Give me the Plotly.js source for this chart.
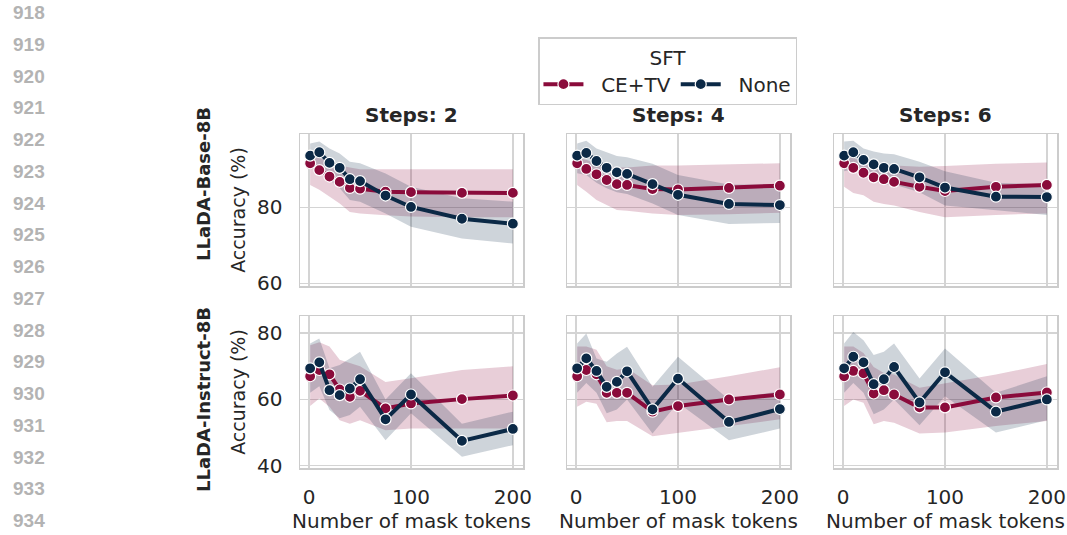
<!DOCTYPE html>
<html>
<head>
<meta charset="utf-8">
<script src="https://cdn.plot.ly/plotly-3.0.1.min.js"></script>
<style>html,body{margin:0;padding:0;background:#fff;}#chart{width:1067px;height:535px;}</style>
</head>
<body>
<div id="chart"></div>
<script>
// ---------- data ----------
const maskTokens = [1, 10, 20, 30, 40, 50, 75, 100, 150, 200];
const stepLabels = ['Steps: 2', 'Steps: 4', 'Steps: 6'];
const modelLabels = ['LLaDA-Base-8B', 'LLaDA-Instruct-8B'];
const seriesNames = ['CE+TV', 'None'];
const lineNumbers = ['918','919','920','921','922','923','924','925','926','927','928','929','930','931','932','933','934'];
const xTicks = [0, 100, 200];
const yTicksBase = [60, 80];
const yTicksInstruct = [40, 60, 80];

// LLaDA-Base-8B
const base_s2_cetv    = [91.6, 89.8, 88.1, 86.7, 85.1, 84.9, 84.1, 84.0, 83.8, 83.8];
const base_s2_cetv_lo = [85.9, 84.6, 82.8, 81.0, 78.8, 78.4, 77.9, 77.6, 77.4, 77.4];
const base_s2_cetv_hi = [93.3, 93.0, 92.0, 91.0, 90.5, 90.0, 90.0, 90.0, 90.0, 90.0];
const base_s2_none    = [93.6, 94.5, 91.7, 90.4, 87.4, 86.9, 83.1, 80.1, 77.0, 75.7];
const base_s2_none_lo = [90.7, 89.8, 87.2, 85.0, 81.9, 81.5, 78.4, 74.9, 71.8, 70.5];
const base_s2_none_hi = [96.8, 97.3, 95.5, 94.2, 92.0, 91.6, 88.9, 85.4, 82.4, 81.5];

const base_s4_cetv    = [91.6, 90.1, 88.7, 87.2, 86.1, 85.9, 84.8, 84.7, 85.1, 85.7];
const base_s4_cetv_lo = [85.9, 84.1, 81.9, 80.6, 79.3, 79.1, 78.4, 78.0, 78.2, 78.6];
const base_s4_cetv_hi = [93.0, 92.5, 91.5, 91.0, 90.5, 90.5, 91.0, 91.0, 91.3, 91.6];
const base_s4_none    = [93.6, 94.3, 92.2, 90.4, 89.2, 88.8, 86.1, 83.3, 80.9, 80.6];
const base_s4_none_lo = [89.0, 88.5, 86.5, 85.0, 84.0, 83.5, 81.0, 78.0, 75.6, 75.9];
const base_s4_none_hi = [96.8, 97.5, 95.5, 94.5, 93.5, 93.2, 91.5, 88.5, 86.0, 86.0];

const base_s6_cetv    = [91.6, 90.4, 89.1, 87.9, 87.4, 86.7, 85.4, 84.3, 85.4, 85.9];
const base_s6_cetv_lo = [85.4, 83.8, 83.2, 81.5, 80.9, 80.5, 78.8, 77.4, 78.0, 78.4];
const base_s6_cetv_hi = [93.5, 93.0, 92.0, 91.5, 91.0, 91.0, 90.7, 90.9, 91.5, 91.8];
const base_s6_none    = [93.6, 94.5, 92.5, 91.3, 90.4, 90.1, 87.9, 85.2, 82.8, 82.7];
const base_s6_none_lo = [89.5, 90.0, 88.5, 87.0, 86.0, 86.0, 84.0, 80.5, 79.3, 78.0];
const base_s6_none_hi = [97.3, 97.5, 95.5, 94.7, 94.2, 94.0, 92.0, 89.5, 86.5, 86.0];

// LLaDA-Instruct-8B
const inst_s2_cetv    = [67.0, 68.9, 67.6, 63.0, 60.8, 62.6, 57.3, 58.8, 60.1, 61.2];
const inst_s2_cetv_lo = [58.0, 60.3, 57.8, 53.7, 52.7, 53.7, 50.7, 51.2, 51.2, 51.2];
const inst_s2_cetv_hi = [76.4, 77.3, 76.0, 72.0, 71.0, 70.0, 65.3, 66.4, 68.9, 70.0];
const inst_s2_none    = [69.4, 71.2, 62.8, 61.3, 63.3, 66.1, 54.0, 61.5, 47.5, 51.1];
const inst_s2_none_lo = [62.0, 64.0, 56.8, 54.3, 55.3, 57.8, 47.7, 55.8, 42.7, 46.2];
const inst_s2_none_hi = [76.9, 78.4, 69.4, 70.4, 72.4, 74.4, 60.0, 67.9, 52.7, 56.3];

const inst_s4_cetv    = [67.0, 68.9, 67.6, 62.0, 62.0, 62.0, 56.3, 58.0, 60.0, 61.5];
const inst_s4_cetv_lo = [57.8, 59.3, 58.7, 53.1, 53.5, 53.5, 48.9, 49.8, 52.0, 54.0];
const inst_s4_cetv_hi = [76.0, 76.0, 75.0, 70.0, 69.0, 69.4, 64.3, 64.5, 67.0, 69.7];
const inst_s4_none    = [69.4, 72.4, 68.6, 63.8, 65.3, 68.5, 57.0, 66.3, 53.2, 57.1];
const inst_s4_none_lo = [62.0, 65.0, 62.0, 55.8, 57.0, 60.0, 49.7, 59.0, 47.7, 51.2];
const inst_s4_none_hi = [76.9, 79.9, 72.4, 71.4, 73.9, 75.9, 63.8, 72.9, 60.0, 62.5];

const inst_s6_cetv    = [67.0, 68.6, 67.9, 61.8, 62.8, 61.5, 57.6, 57.6, 60.6, 62.1];
const inst_s6_cetv_lo = [58.0, 60.0, 59.0, 52.5, 53.5, 53.0, 49.7, 50.0, 52.0, 53.5];
const inst_s6_cetv_hi = [76.0, 76.0, 74.0, 69.8, 68.0, 67.5, 63.5, 64.8, 67.5, 70.7];
const inst_s6_none    = [69.4, 72.9, 71.2, 64.6, 66.1, 69.8, 59.1, 68.2, 56.3, 60.0];
const inst_s6_none_lo = [62.0, 65.0, 62.0, 55.5, 57.0, 60.0, 52.2, 61.0, 50.0, 53.7];
const inst_s6_none_hi = [76.9, 80.4, 77.9, 73.4, 74.4, 76.9, 66.3, 75.4, 62.0, 67.0];

// ---------- build ----------
const panels = [
  [base_s2_cetv, base_s2_cetv_lo, base_s2_cetv_hi, base_s2_none, base_s2_none_lo, base_s2_none_hi],
  [base_s4_cetv, base_s4_cetv_lo, base_s4_cetv_hi, base_s4_none, base_s4_none_lo, base_s4_none_hi],
  [base_s6_cetv, base_s6_cetv_lo, base_s6_cetv_hi, base_s6_none, base_s6_none_lo, base_s6_none_hi],
  [inst_s2_cetv, inst_s2_cetv_lo, inst_s2_cetv_hi, inst_s2_none, inst_s2_none_lo, inst_s2_none_hi],
  [inst_s4_cetv, inst_s4_cetv_lo, inst_s4_cetv_hi, inst_s4_none, inst_s4_none_lo, inst_s4_none_hi],
  [inst_s6_cetv, inst_s6_cetv_lo, inst_s6_cetv_hi, inst_s6_none, inst_s6_none_lo, inst_s6_none_hi]
];

const W = 1067, H = 535;
const lineColors = ['#8a0b3b', '#0b2946'];
const bandColors = ['rgba(138,11,59,0.2)', 'rgba(11,41,70,0.2)'];
const TXT = '#262626';
const FONT = 'DejaVu Sans, sans-serif';

const colPx = [[300, 523], [567, 790], [834, 1057]];
const rowPx = [[134, 286], [316, 468]];
const xDom = colPx.map(c => [c[0] / W, c[1] / W]);
const yDom = rowPx.map(r => [1 - r[1] / H, 1 - r[0] / H]);
const yRanges = [[59.3, 99.3], [39.3, 85.2]];

const traces = [];
const bandTraces = [], lineTraces = [];
panels.forEach((p, i) => {
  const sfx = i === 0 ? '' : String(i + 1);
  const xa = 'x' + sfx, ya = 'y' + sfx;
  for (let s = 0; s < 2; s++) {
    const mean = p[s * 3], lo = p[s * 3 + 1], hi = p[s * 3 + 2];
    bandTraces.push({
      type: 'scatter', mode: 'lines', xaxis: xa, yaxis: ya,
      x: maskTokens.concat(maskTokens.slice().reverse()),
      y: hi.concat(lo.slice().reverse()),
      fill: 'toself', fillcolor: bandColors[s], line: {width: 0},
      hoverinfo: 'skip', showlegend: false
    });
    lineTraces.push({
      type: 'scatter', mode: 'lines+markers', xaxis: xa, yaxis: ya,
      x: maskTokens, y: mean, name: '\u00a0\u00a0' + seriesNames[s],
      legendgroup: seriesNames[s], showlegend: i === 0,
      line: {color: lineColors[s], width: 4},
      marker: {color: lineColors[s], size: 11, line: {color: '#ffffff', width: 1.2}}
    });
  }
});
traces.push(...bandTraces, ...lineTraces);

const layout = {
  width: W, height: H,
  margin: {l: 0, r: 0, t: 0, b: 0},
  paper_bgcolor: '#ffffff', plot_bgcolor: '#ffffff',
  font: {family: FONT, size: 20, color: TXT},
  showlegend: true,
  legend: {
    orientation: 'h', x: 0.626, xanchor: 'center', y: 0.93, yanchor: 'top',
    title: {text: 'SFT', side: 'top center', font: {size: 20, color: TXT}},
    font: {size: 20, color: TXT}, bordercolor: '#cccccc', borderwidth: 1.2,
    bgcolor: '#ffffff', itemwidth: 40, tracegroupgap: 0
  },
  annotations: [],
  hovermode: false
};

for (let i = 0; i < 6; i++) {
  const r = Math.floor(i / 3), c = i % 3;
  const sfx = i === 0 ? '' : String(i + 1);
  layout['xaxis' + sfx] = {
    domain: xDom[c], anchor: 'y' + sfx, range: [-8.95, 209.95],
    tickvals: xTicks, ticktext: xTicks.map(String), showticklabels: r === 1,
    tickfont: {size: 20, color: TXT}, ticks: '', ticklabelstandoff: 10,
    showgrid: true, gridcolor: '#d4d4d4', gridwidth: 1.5, zeroline: false,
    showline: true, mirror: true, linecolor: '#cccccc', linewidth: 1.5,
    title: r === 1 ? {text: 'Number of mask tokens', font: {size: 20, color: TXT}, standoff: 5} : {text: ''}
  };
  const yt = r === 0 ? yTicksBase : yTicksInstruct;
  layout['yaxis' + sfx] = {
    domain: yDom[r], anchor: 'x' + sfx, range: yRanges[r],
    tickvals: yt, ticktext: yt.map(String), showticklabels: c === 0,
    tickfont: {size: 20, color: TXT}, ticks: '', ticklabelstandoff: 12,
    showgrid: true, gridcolor: '#d4d4d4', gridwidth: 1.5, zeroline: false,
    showline: true, mirror: true, linecolor: '#cccccc', linewidth: 1.5,
    title: c === 0 ? {text: 'Accuracy (%)', font: {size: 19, color: TXT}, standoff: 6} : {text: ''}
  };
}

// column titles
stepLabels.forEach((t, c) => {
  layout.annotations.push({
    text: '<b>' + t + '</b>', xref: 'paper', yref: 'paper',
    x: (xDom[c][0] + xDom[c][1]) / 2, y: 1 - 115 / H,
    xanchor: 'center', yanchor: 'middle', showarrow: false,
    font: {size: 20, color: TXT, family: FONT}
  });
});
// row labels
const rowLabelY = [184, 400];
modelLabels.forEach((t, r) => {
  layout.annotations.push({
    text: '<b>' + t + '</b>', xref: 'paper', yref: 'paper',
    x: 203 / W, y: 1 - rowLabelY[r] / H, textangle: -90,
    xanchor: 'center', yanchor: 'middle', showarrow: false,
    font: {size: 18, color: TXT, family: FONT}
  });
});
// margin line numbers
lineNumbers.forEach((t, k) => {
  layout.annotations.push({
    text: '<b>' + t + '</b>', xref: 'paper', yref: 'paper',
    x: 28.5 / W, y: 1 - (12.5 + k * 31.75) / H,
    xanchor: 'center', yanchor: 'middle', showarrow: false,
    font: {size: 19, color: '#b3b3b3', family: 'Liberation Sans, Arial, sans-serif'}
  });
});

Plotly.newPlot('chart', traces, layout, {displayModeBar: false, staticPlot: true});
</script>
</body>
</html>
